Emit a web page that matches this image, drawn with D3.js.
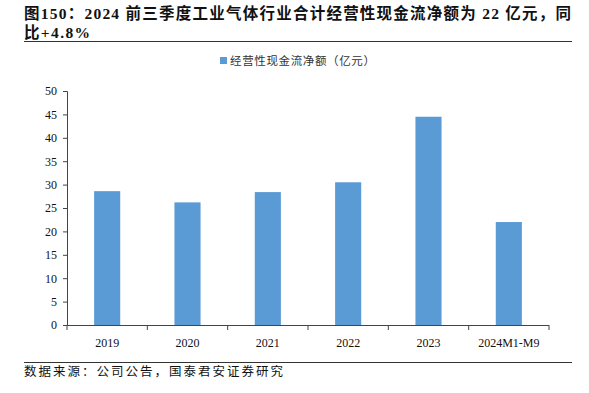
<!DOCTYPE html>
<html><head><meta charset="utf-8">
<script src="https://cdn.jsdelivr.net/npm/d3@7"></script>
<style>
body{margin:0;background:#fff;}
text{font-family:"Liberation Serif","Noto Sans CJK SC",serif;}
</style></head>
<body><svg id="c" width="589" height="393"></svg>
<script>
const categories = ["2019","2020","2021","2022","2023","2024M1-M9"];
const values = [28.6, 26.2, 28.4, 30.5, 44.5, 22.0];
const yTicks = [0,5,10,15,20,25,30,35,40,45,50];
const seriesName = "经营性现金流净额（亿元）";
const titleLines = ["图150：2024 前三季度工业气体行业合计经营性现金流净额为 22 亿元，同","比+4.8%"];
const sourceText = "数据来源：公司公告，国泰君安证券研究";

(function(){
const svg = d3.select("#c");
const mL = 67, mR = 549, mT = 91, mB = 325;
const x = d3.scaleBand().domain(categories).range([mL, mR]).paddingInner(0.675).paddingOuter(0.3375);
const xb = d3.scaleBand().domain(categories).range([mL, mR]);
const y = d3.scaleLinear().domain([0,50]).range([mB, mT]);

const tl = svg.selectAll("text.title").data(titleLines).enter().append("text")
  .attr("x", 24).attr("y", (d,i)=>19 + i*19)
  .attr("font-size", 15.5).attr("font-weight", "bold").attr("fill", "#111")
  .text(d=>d);
tl.filter((d,i)=>i===0).attr("textLength",547).attr("lengthAdjust","spacing");
tl.filter((d,i)=>i===1).attr("textLength",66).attr("lengthAdjust","spacing");
svg.append("line").attr("x1",24).attr("x2",572).attr("y1",41.5).attr("y2",41.5).attr("stroke","#333").attr("stroke-width",1);

svg.append("rect").attr("x",220).attr("y",57).attr("width",7).attr("height",7).attr("fill","#5B9BD5");
svg.append("text").attr("x",230).attr("y",65).attr("font-size",11.5).attr("fill","#333")
  .attr("textLength",145).attr("lengthAdjust","spacing")
  .style("font-family","'Noto Sans CJK SC',sans-serif").text(seriesName);

svg.selectAll("rect.bar").data(values).enter().append("rect")
  .attr("x",(d,i)=>x(categories[i])).attr("width",x.bandwidth())
  .attr("y",d=>y(d)).attr("height",d=>mB-y(d)).attr("fill","#5B9BD5");

const ya = svg.append("g").attr("transform",`translate(${mL},0)`)
  .call(d3.axisLeft(y).tickValues(yTicks).tickSize(4).tickPadding(6));
ya.select(".domain").attr("stroke","#444");
ya.selectAll(".tick line").attr("stroke","#444");
ya.selectAll("text").attr("font-size",12).attr("fill","#111").style("font-family","'Liberation Serif',serif");

const xg = svg.append("g").attr("transform",`translate(0,${mB})`);
xg.append("line").attr("x1",mL).attr("x2",mR).attr("y1",0.5).attr("y2",0.5).attr("stroke","#444");
const bounds = categories.map(c=>xb(c)).concat([mR]);
xg.selectAll("line.t").data(bounds).enter().append("line")
  .attr("x1",d=>d).attr("x2",d=>d).attr("y1",0).attr("y2",5).attr("stroke","#444");
xg.selectAll("text").data(categories).enter().append("text")
  .attr("x",d=>xb(d)+xb.bandwidth()/2).attr("y",22).attr("text-anchor","middle")
  .attr("font-size",12).attr("fill","#111").text(d=>d);

svg.append("line").attr("x1",24).attr("x2",572).attr("y1",362.5).attr("y2",362.5).attr("stroke","#333");
svg.append("text").attr("x",24).attr("y",376).attr("font-size",12.5).attr("fill","#111")
  .attr("textLength",259).attr("lengthAdjust","spacing")
  .style("font-family","'Noto Sans CJK SC',sans-serif").text(sourceText);
})();
</script></body></html>
